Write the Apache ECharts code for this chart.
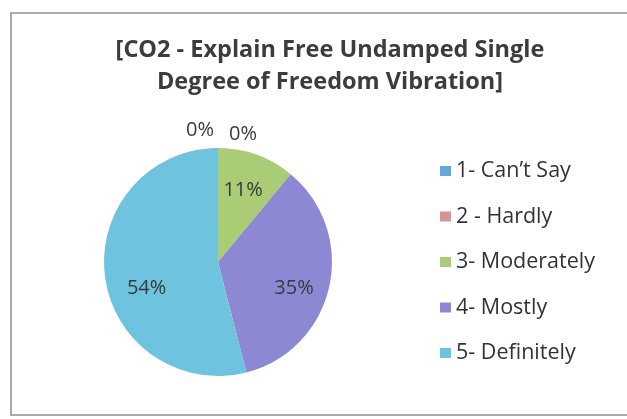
<!DOCTYPE html>
<html>
<head>
<meta charset="utf-8">
<script src="https://cdn.jsdelivr.net/npm/echarts@6/dist/echarts.min.js"></script>
<style>
html,body{margin:0;padding:0;background:#fff;}
#chart{width:627px;height:419px;}
</style>
</head>
<body>
<div id="chart"></div>
<script>
const titleText = "[CO2 - Explain Free Undamped Single\nDegree of Freedom Vibration]";
const categories = ["1- Can\u2019t Say", "2 - Hardly", "3- Moderately", "4- Mostly", "5- Definitely"];
const values = [0, 0, 11, 35, 54];
const colors = ["#62a8dc", "#d69494", "#a9cc74", "#8d88d4", "#6ec3df"];

const FONT = "'Open Sans', Lato, sans-serif";

const chart = echarts.init(document.getElementById('chart'), null, {renderer: 'canvas'});

const mainData = categories.map((c, i) => ({name: c, value: values[i], itemStyle: {color: colors[i]}}));
const labelData = categories.map((c, i) => ({
  name: c,
  value: values[i],
  label: {position: values[i] > 0 ? 'inside' : 'outside'}
}));

// small label nudges (Excel "best fit" placement)
const labelNudge = {0: [-13, -18], 1: [30, -14], 2: [-2, 4], 3: [-2, 9], 4: [8, 16]};

chart.setOption({
  backgroundColor: '#ffffff',
  animation: false,
  graphic: [{
    type: 'rect',
    shape: {x: 11, y: 13, width: 640, height: 402},
    style: {fill: 'none', stroke: '#8f8f8f', lineWidth: 1.5},
    silent: true
  }],
  title: {
    text: titleText,
    left: 325,
    top: 29,
    textAlign: 'center',
    textStyle: {fontFamily: FONT, fontSize: 23.5, fontWeight: 'bold', color: '#3c3c3c', lineHeight: 32}
  },
  legend: {
    orient: 'vertical',
    left: 435,
    top: 155,
    icon: 'rect',
    itemWidth: 11,
    itemHeight: 10,
    itemGap: 23.5,
    data: categories,
    textStyle: {fontFamily: FONT, fontSize: 21.5, color: '#333333', lineHeight: 22},
    selectedMode: false
  },
  series: [{
    type: 'pie',
    center: [218, 262],
    radius: 114,
    startAngle: 90,
    clockwise: true,
    data: mainData,
    label: {show: false},
    labelLine: {show: false},
    itemStyle: {borderWidth: 0},
    emphasis: {disabled: true},
    silent: true
  }, {
    type: 'pie',
    center: [218, 262],
    radius: [40, 114],
    startAngle: 90,
    clockwise: true,
    avoidLabelOverlap: false,
    data: labelData,
    itemStyle: {color: 'rgba(0,0,0,0)', borderWidth: 0},
    label: {
      show: true,
      formatter: p => p.value + '%',
      fontFamily: FONT,
      fontSize: 20,
      color: '#3a3a3a'
    },
    labelLine: {show: false, length: 0, length2: 0},
    labelLayout: function (params) {
      const s = labelNudge[params.dataIndex];
      if (!s) return {};
      const out = {dx: s[0], dy: s[1]};
      if (values[params.dataIndex] === 0) out.align = 'center';
      return out;
    },
    emphasis: {disabled: true},
    silent: true
  }]
});
</script>
</body>
</html>
